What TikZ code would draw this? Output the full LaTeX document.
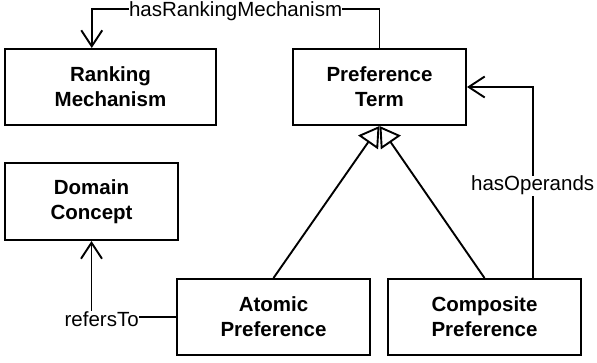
\documentclass[tikz,border=0pt]{standalone}
\usepackage{fontspec}
\setmainfont{Liberation Sans}
\usetikzlibrary{arrows.meta,calc}
\begin{document}
\begin{tikzpicture}[x=1pt,y=-1pt,
  box/.style={draw,line width=2pt,rectangle,inner sep=0pt,align=center,
    font=\fontsize{20.5}{25}\selectfont\bfseries},
  link/.style={line width=1.9pt},
  assoc/.style={link,-{Straight Barb[length=16pt,width=21pt,line width=1.9pt]}},
  inherit/.style={link,-{Triangle[open,length=20pt,width=24pt,line width=1.9pt]}},
  lbl/.style={fill=white,inner sep=0.3pt,yshift=-2pt,font=\fontsize{20.5}{25}\selectfont}]
  \useasboundingbox (0,0) rectangle (597,362);

  % classes
  \node[box,minimum width=211pt,minimum height=76pt] (rank) at (110.5,87) {Ranking\\Mechanism};
  \node[box,minimum width=173pt,minimum height=76pt] (pref) at (379.5,87) {Preference\\Term};
  \node[box,minimum width=173pt,minimum height=77pt] (dom) at (91.5,201.5) {Domain\\Concept};
  \node[box,minimum width=193pt,minimum height=76pt] (atom) at (273.5,317) {Atomic\\Preference};
  \node[box,minimum width=193pt,minimum height=76pt] (comp) at (484.5,317) {Composite\\Preference};

  % attachment points off the box centres
  \coordinate (rankIn) at ($(rank.north west)!0.412!(rank.north east)$);
  \coordinate (compOut) at ($(comp.north west)!0.747!(comp.north east)$);

  % generalisation
  \draw[inherit] (atom.north) -- (pref.south);
  \draw[inherit] (comp.north) -- (pref.south);

  % associations
  \draw[assoc] (pref.north) -- ++(0,-39) -| node[lbl,pos=0.25]{hasRankingMechanism} (rankIn);
  \draw[assoc] (compOut) |- node[lbl,pos=0.247]{hasOperands} (pref.east);
  \draw[assoc] (atom.west) -| node[lbl,pos=0.44]{refersTo} (dom.south);
\end{tikzpicture}
\end{document}
